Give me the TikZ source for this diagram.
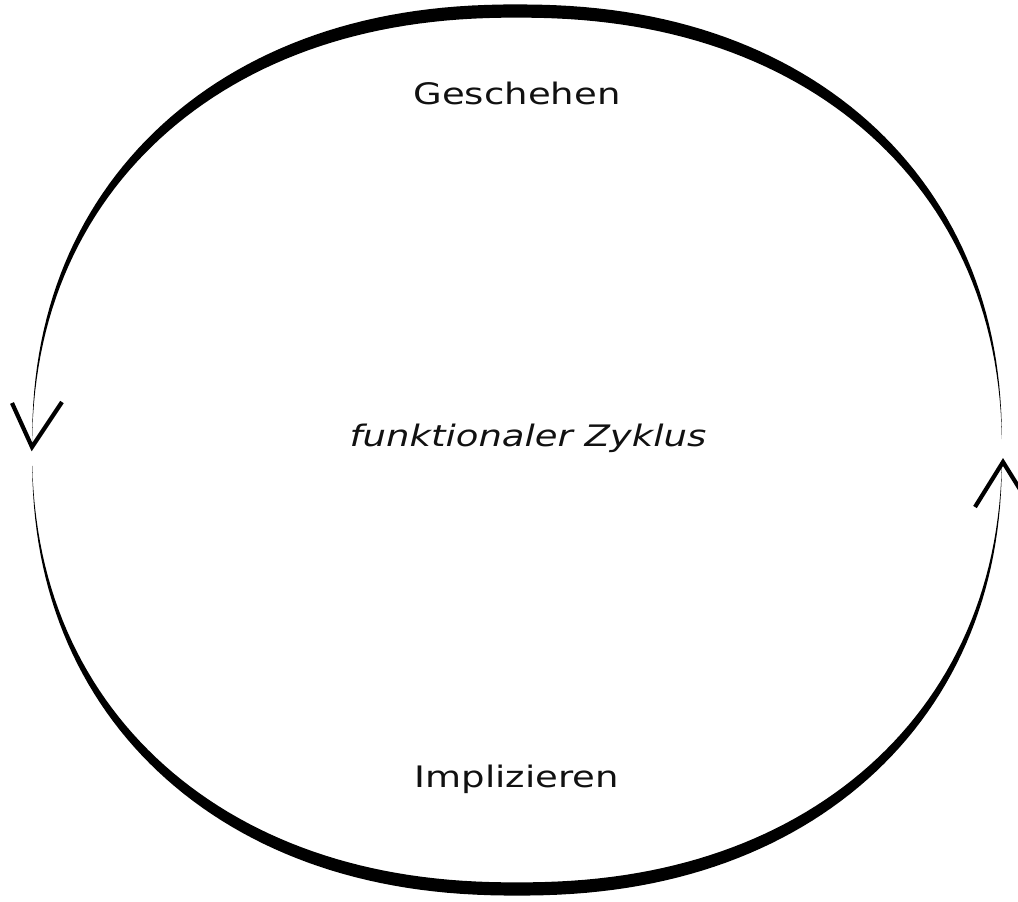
\documentclass[tikz,border=0pt]{standalone}
\usepackage{fontspec}
\setmainfont{DejaVu Sans}
\usepackage{tikz}
\usetikzlibrary{positioning}
\definecolor{cInk}{HTML}{000000}
\definecolor{cText}{HTML}{111111}
\tikzset{
  lbl/.style={font=\fontsize{14.8}{17}\selectfont,text=cText,xscale=1.25,inner sep=0pt,anchor=base},
  band/.style={fill=cInk,draw=none},
  tipline/.style={draw=cInk,line width=2.1pt,line join=miter},
  declare function={
    sx(\t,\r)=517+\r*cos(\t)*pow(abs(cos(\t))+0.0001,-0.09);
    sy(\t,\r)=450-\r*sin(\t)*pow(abs(sin(\t))+0.0001,-0.09);
    hw(\t)=6.6*pow(abs(sin(\t))+0.0001,1.2);}}

\begin{document}
\begin{tikzpicture}[x=0.5pt,y=-0.5pt]
\useasboundingbox (0,0) rectangle (1018,901);
\foreach \a/\b in {1/179.7,181.5/358.5}
  \fill[band] plot[domain=\a:\b,samples=120,variable=\t] ({sx(\t,485+hw(\t))},{sy(\t,439+hw(\t))})
    -- plot[domain=\b:\a,samples=120,variable=\t] ({sx(\t,485-hw(\t))},{sy(\t,439-hw(\t))}) -- cycle;
\coordinate (tipL) at (32,447);
\coordinate (tipR) at (1003,462);
\draw[tipline] (12,403) -- (tipL) -- (62,402);
\draw[tipline] (975,507) -- (tipR) -- (1031,507);
\node[lbl] (geschehen) at (517,104) {Geschehen};
\node[lbl,font=\fontsize{14.8}{17}\selectfont\itshape] (zyklus) at (528,446) {funktionaler Zyklus};
\node[lbl] (implizieren) at (517,787) {Implizieren};
\end{tikzpicture}
\end{document}
